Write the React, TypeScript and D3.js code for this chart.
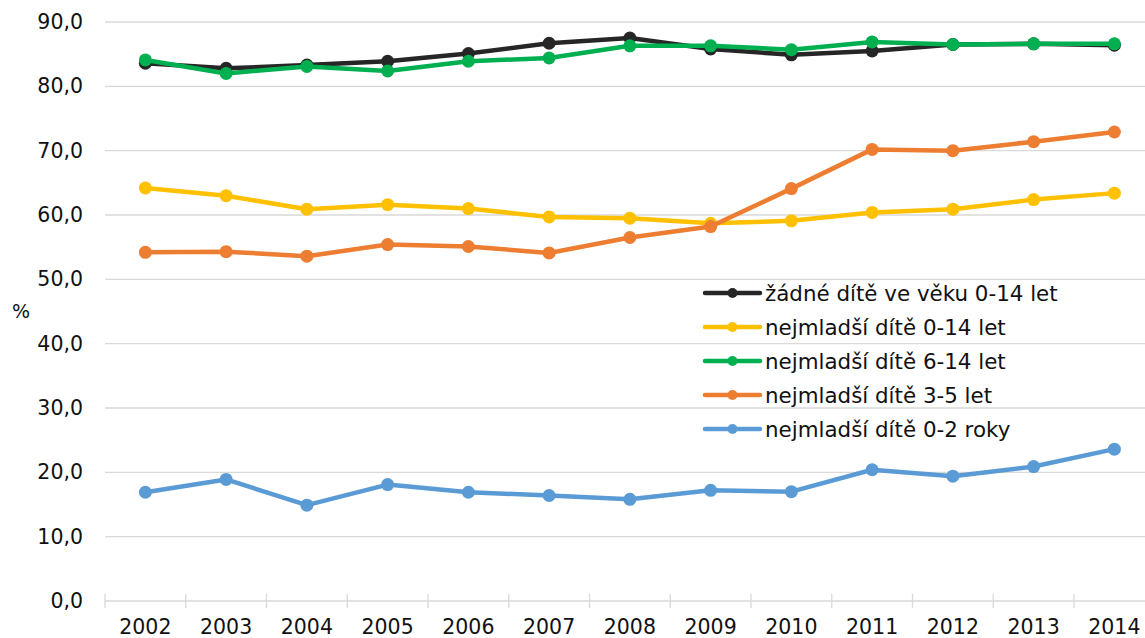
import React from "react";
import * as d3 from "d3";

const years = ["2002","2003","2004","2005","2006","2007","2008","2009","2010","2011","2012","2013","2014"];
const noChild = [83.6,82.8,83.3,83.9,85.1,86.7,87.5,85.8,84.9,85.5,86.5,86.6,86.4];
const youngest0to14 = [64.2,63.0,60.9,61.6,61.0,59.7,59.5,58.7,59.1,60.4,60.9,62.4,63.4];
const youngest6to14 = [84.1,82.0,83.1,82.4,83.9,84.4,86.3,86.3,85.7,86.9,86.5,86.6,86.6];
const youngest3to5 = [54.2,54.3,53.6,55.4,55.1,54.1,56.5,58.2,64.1,70.2,70.0,71.4,72.9];
const youngest0to2 = [16.9,18.9,14.9,18.1,16.9,16.4,15.8,17.2,17.0,20.4,19.4,20.9,23.6];
const yTicks = [0,10,20,30,40,50,60,70,80,90];

const seriesNames = [
  "žádné dítě ve věku 0-14 let",
  "nejmladší dítě 0-14 let",
  "nejmladší dítě 6-14 let",
  "nejmladší dítě 3-5 let",
  "nejmladší dítě 0-2 roky",
];
const seriesValues = [noChild, youngest0to14, youngest6to14, youngest3to5, youngest0to2];
const seriesColors = ["#262626", "#FFC000", "#00B050", "#ED7D31", "#5B9BD5"];

const W = 1145, H = 638;
const left = 105, top = 22, bottom = 601;
const step = 80.75;

export default function App() {
  const x = d3.scaleBand<string>().domain(years).range([left, left + step * years.length]).padding(0);
  const y = d3.scaleLinear().domain([0, 90]).range([bottom, top]);
  const fmt = (v: number) => d3.format(".1f")(v).replace(".", ",");
  const cx = (yr: string) => (x(yr) as number) + x.bandwidth() / 2;
  const line = d3.line<number>().x((_, i) => cx(years[i])).y((v) => y(v));
  const font = "'DejaVu Sans', Verdana, sans-serif";

  const legendX = 705, legendY0 = 293, legendStep = 34;

  return (
    <svg width={W} height={H} style={{ position: "absolute", left: 0, top: 0, background: "#fff" }} fontFamily={font}>
      {yTicks.map((t) => (
        <g key={t}>
          <line x1={left} x2={W} y1={y(t)} y2={y(t)} stroke="#D9D9D9" strokeWidth={1.3} />
          <text x={83} y={y(t)} textAnchor="end" dominantBaseline="central" fontSize={20.5} fill="#111">{fmt(t)}</text>
        </g>
      ))}
      {years.map((yr) => (
        <line key={"t" + yr} x1={(x(yr) as number)} x2={(x(yr) as number)} y1={bottom - 7} y2={bottom + 7} stroke="#D9D9D9" strokeWidth={1.3} />
      ))}
      {years.map((yr) => (
        <text key={"l" + yr} x={cx(yr)} y={634} textAnchor="middle" fontSize={20.5} fill="#111">{yr}</text>
      ))}
      <text x={21} y={311} textAnchor="middle" dominantBaseline="central" fontSize={19} fill="#111">%</text>
      {seriesValues.map((vals, s) => (
        <g key={"s" + s}>
          <path d={line(vals) || ""} fill="none" stroke={seriesColors[s]} strokeWidth={4.5} strokeLinejoin="round" strokeLinecap="round" />
          {vals.map((v, i) => (
            <circle key={i} cx={cx(years[i])} cy={y(v)} r={6.5} fill={seriesColors[s]} />
          ))}
        </g>
      ))}
      {seriesNames.map((name, s) => {
        const yy = legendY0 + s * legendStep;
        return (
          <g key={"lg" + s}>
            <line x1={legendX} x2={legendX + 55} y1={yy} y2={yy} stroke={seriesColors[s]} strokeWidth={4.5} strokeLinecap="round" />
            <circle cx={legendX + 27.5} cy={yy} r={5} fill={seriesColors[s]} />
            <text x={legendX + 60} y={yy} dominantBaseline="central" fontSize={21.4} fill="#111">{name}</text>
          </g>
        );
      })}
    </svg>
  );
}
